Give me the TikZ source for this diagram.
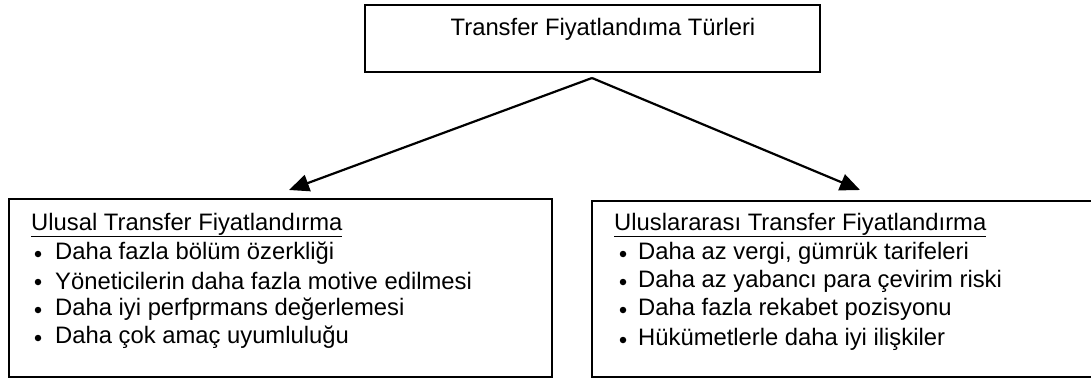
\documentclass[tikz,border=0pt]{standalone}
\usepackage{fontspec}
\setmainfont{Liberation Sans}
\usetikzlibrary{arrows.meta}
\begin{document}
\begin{tikzpicture}[x=1pt,y=-1pt,
  frame/.style={draw=black, line width=2pt},
  txt/.style={anchor=west, inner sep=0pt, font=\fontsize{23.8}{27}\selectfont},
  dot/.style={circle, fill=black, inner sep=0pt, minimum size=6.5pt},
  link/.style={draw=black, line width=2.2pt, -{Triangle[length=20pt,width=17pt]}}]
\useasboundingbox (0,0) rectangle (1091,380);

% top box
\draw[frame] (365,5) rectangle (820,72);
\node[txt, anchor=center] (title) at (603,29) {Transfer Fiyatlandıma Türleri};
\coordinate (src) at (592,78);

% left box
\draw[frame] (9,199) rectangle (552,377);
\coordinate (ltip) at (289,190);
\node[txt] (lh) at (31,225) {\underline{Ulusal Transfer Fiyatlandırma}};
\node[dot] (lb1) at (38,254) {};
\node[txt] (l1) at (55,253) {Daha fazla bölüm özerkliği};
\node[dot] (lb2) at (38,282) {};
\node[txt] (l2) at (55,281) {Yöneticilerin daha fazla motive edilmesi};
\node[dot] (lb3) at (38,310) {};
\node[txt] (l3) at (55,309) {Daha iyi perfprmans değerlemesi};
\node[dot] (lb4) at (38,338) {};
\node[txt] (l4) at (55,337) {Daha çok amaç uyumluluğu};

% right box
\draw[frame] (592,201) rectangle (1100,377);
\coordinate (rtip) at (860,190);
\node[txt] (rh) at (614,225) {\underline{Uluslararası Transfer Fiyatlandırma}};
\node[dot] (rb1) at (623,254) {};
\node[txt] (r1) at (638,253) {Daha az vergi, gümrük tarifeleri};
\node[dot] (rb2) at (623,282) {};
\node[txt] (r2) at (638,281) {Daha az yabancı para çevirim riski};
\node[dot] (rb3) at (623,310) {};
\node[txt] (r3) at (638,309) {Daha fazla rekabet pozisyonu};
\node[dot] (rb4) at (623,340) {};
\node[txt] (r4) at (638,339) {Hükümetlerle daha iyi ilişkiler};

% connectors
\draw[link] (src) -- (ltip);
\draw[link] (src) -- (rtip);
\end{tikzpicture}
\end{document}
